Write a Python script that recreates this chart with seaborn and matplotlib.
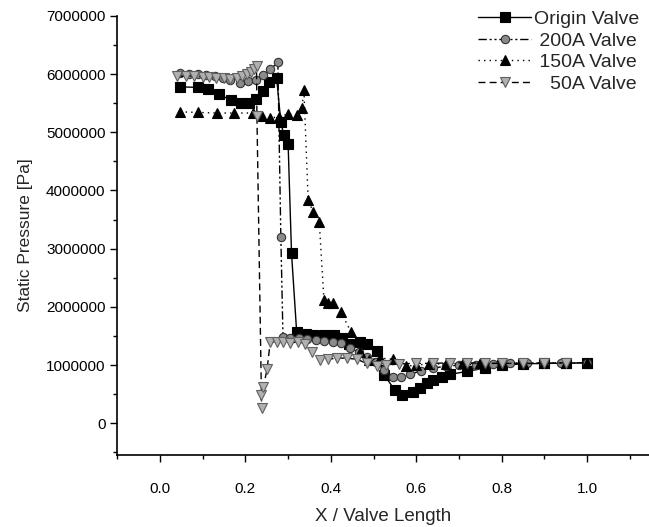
import numpy as np
import pandas as pd
import seaborn as sns
import matplotlib
matplotlib.use('Agg')
import matplotlib.pyplot as plt
from matplotlib.ticker import MultipleLocator, FormatStrFormatter

# values, pressure in MPa (converted to Pa below)
origin_x = [0.047, 0.088, 0.113, 0.139, 0.166, 0.190, 0.208, 0.224, 0.241, 0.256,
            0.273, 0.283, 0.290, 0.300, 0.308, 0.320, 0.343, 0.359, 0.384, 0.407,
            0.426, 0.443, 0.468, 0.484, 0.509, 0.525, 0.550, 0.566, 0.593, 0.609,
            0.625, 0.640, 0.660, 0.678, 0.718, 0.76, 0.80, 0.85, 0.90, 0.95, 1.0]
origin_p = [5.78, 5.77, 5.74, 5.65, 5.55, 5.50, 5.51, 5.57, 5.71, 5.86,
            5.94, 5.17, 4.95, 4.80, 2.92, 1.57, 1.54, 1.51, 1.51, 1.51,
            1.47, 1.37, 1.40, 1.36, 1.24, 0.83, 0.57, 0.49, 0.54, 0.60,
            0.69, 0.74, 0.80, 0.84, 0.89, 0.95, 1.00, 1.02, 1.03, 1.03, 1.04]

v200_x = [0.047, 0.068, 0.089, 0.108, 0.128, 0.148, 0.164, 0.187, 0.206, 0.225,
          0.241, 0.258, 0.276, 0.283, 0.288, 0.305, 0.325, 0.345, 0.365, 0.385,
          0.405, 0.425, 0.445, 0.465, 0.485, 0.505, 0.525, 0.545, 0.565, 0.585,
          0.61, 0.64, 0.67, 0.70, 0.74, 0.78, 0.82, 0.86, 0.90, 0.94, 1.0]
v200_p = [6.01, 6.00, 6.00, 5.98, 5.96, 5.93, 5.90, 5.85, 5.88, 5.90,
          5.98, 6.08, 6.20, 3.20, 1.48, 1.46, 1.47, 1.45, 1.43, 1.42,
          1.40, 1.38, 1.30, 1.22, 1.14, 1.05, 0.92, 0.80, 0.80, 0.84,
          0.90, 0.95, 0.98, 1.00, 1.01, 1.02, 1.03, 1.03, 1.03, 1.04, 1.04]

v150_x = [0.047, 0.090, 0.133, 0.174, 0.217, 0.240, 0.258, 0.279, 0.300, 0.320,
          0.332, 0.337, 0.347, 0.359, 0.373, 0.384, 0.394, 0.404, 0.424, 0.447,
          0.468, 0.49, 0.515, 0.545, 0.575, 0.60, 0.63, 0.67, 0.71, 0.75,
          0.80, 0.85, 0.90, 0.95, 1.0]
v150_p = [5.35, 5.34, 5.33, 5.33, 5.33, 5.28, 5.24, 5.27, 5.31, 5.30,
          5.41, 5.72, 3.83, 3.63, 3.45, 2.11, 2.07, 2.06, 1.91, 1.57,
          1.23, 1.09, 1.12, 1.10, 0.98, 1.00, 1.02, 1.02, 1.03, 1.03,
          1.03, 1.03, 1.04, 1.04, 1.04]

v50_x = [0.040, 0.060, 0.080, 0.100, 0.115, 0.130, 0.150, 0.165, 0.180, 0.192,
         0.203, 0.212, 0.220, 0.226, 0.227, 0.238, 0.236, 0.242, 0.251, 0.258,
         0.273, 0.289, 0.304, 0.324, 0.340, 0.355, 0.375, 0.394, 0.414, 0.437,
         0.461, 0.484, 0.507, 0.53, 0.56, 0.60, 0.64, 0.68, 0.72, 0.76,
         0.80, 0.85, 0.90, 0.95]
v50_p = [5.97, 5.96, 5.97, 5.95, 5.95, 5.94, 5.93, 5.92, 5.94, 5.97,
         6.00, 6.04, 6.08, 6.13, 5.28, 0.26, 0.49, 0.62, 0.94, 1.39,
         1.40, 1.39, 1.38, 1.40, 1.37, 1.23, 1.09, 1.10, 1.12, 1.12,
         1.10, 1.03, 0.98, 1.00, 1.02, 1.03, 1.03, 1.04, 1.04, 1.03,
         1.03, 1.03, 1.03, 1.04]

labels = ['Origin Valve', ' 200A Valve', ' 150A Valve', '   50A Valve']

sns.set_style('ticks')
plt.rcParams['font.family'] = ['Liberation Sans', 'DejaVu Sans']

fig = plt.figure(figsize=(6.49, 5.27), dpi=100)
ax = fig.add_axes([0.1807, 0.136, 0.8193, 0.834])

# (x, p, line style, marker, face, edge, marker size)
series = [
    (origin_x, origin_p, '-', 's', 'black', 'black', 6.5),
    (v200_x, v200_p, (0, (6, 2, 1.5, 2, 1.5, 2)), 'o', '#8a8a8a', '#333333', 6),
    (v150_x, v150_p, (0, (1, 3)), '^', 'black', 'black', 7),
    (v50_x, v50_p, (0, (5, 3)), 'v', '#b0b0b0', '#606060', 7),
]

for lab, (xs, ps, ls, mk, fc, ec, ms) in zip(labels, series):
    df = pd.DataFrame({'x': xs, 'p': np.array(ps) * 1e6})
    sns.lineplot(data=df, x='x', y='p', sort=False, estimator=None, ax=ax,
                 label=lab, color='black', linestyle=ls, linewidth=1.0,
                 marker=mk, markersize=ms, markerfacecolor=fc,
                 markeredgecolor=ec, markeredgewidth=0.8)

ax.set_xlim(-0.1, 1.145)
ax.set_ylim(-550000, 7000000)
ax.set_xticks([0.0, 0.2, 0.4, 0.6, 0.8, 1.0])
ax.xaxis.set_major_formatter(FormatStrFormatter('%.1f'))
ax.xaxis.set_minor_locator(MultipleLocator(0.1))
ax.set_yticks(np.arange(0, 7000001, 1000000))
ax.yaxis.set_major_formatter(FormatStrFormatter('%d'))
ax.yaxis.set_minor_locator(MultipleLocator(500000))

sns.despine(ax=ax)
for s in ['left', 'bottom']:
    ax.spines[s].set_color('black')
    ax.spines[s].set_linewidth(1.2)
ax.tick_params(which='both', direction='out', color='black', width=1.0, labelcolor='black')
ax.tick_params(which='major', length=5, labelsize=11)
ax.tick_params(which='minor', length=3)
ax.tick_params(axis='x', which='major', pad=14)

ax.set_xlabel('X / Valve Length', fontsize=13.5, labelpad=9)
ax.set_ylabel('Static Pressure [Pa]', fontsize=12.5, labelpad=9)

ax.legend(loc='upper left', bbox_to_anchor=(0.737, 0.98), bbox_transform=fig.transFigure,
          frameon=False, fontsize=14, handlelength=2.7, handletextpad=0.15,
          labelspacing=0.2, borderpad=0, borderaxespad=0)

fig.savefig('out.png', dpi=100)
